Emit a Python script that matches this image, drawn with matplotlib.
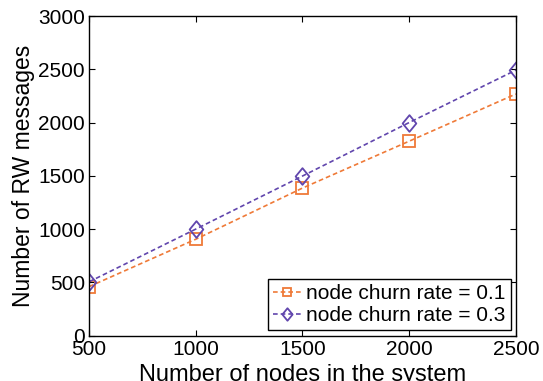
import numpy as np
import matplotlib.pyplot as plt
from matplotlib.path import Path

plt.rcParams['font.family'] = ['Liberation Sans', 'DejaVu Sans']

# Data
nodes = [500, 1000, 1500, 2000, 2500]
churn_01 = [460, 905, 1385, 1825, 2268]
churn_03 = [505, 1000, 1498, 2000, 2492]

# diamond a bit taller than wide, like the original
diamond = Path([(0, 1), (0.82, 0), (0, -1), (-0.82, 0), (0, 1)],
               [Path.MOVETO, Path.LINETO, Path.LINETO, Path.LINETO, Path.CLOSEPOLY])

fig = plt.figure(figsize=(5.43, 3.81), dpi=100)
ax = fig.add_axes([0.164, 0.119, 0.786, 0.839])

ax.plot(nodes, churn_01, linestyle=(0, (2.8, 1.8)), marker='s', color='#ef7a38',
        markerfacecolor='none', markersize=8.5, markeredgewidth=1.3, linewidth=1.2,
        label='node churn rate = 0.1')
ax.plot(nodes, churn_03, linestyle=(0, (2.8, 1.8)), marker=diamond, color='#6146ad',
        markerfacecolor='none', markersize=12, markeredgewidth=1.3, linewidth=1.2,
        label='node churn rate = 0.3')

ax.set_xlim(500, 2500)
ax.set_ylim(0, 3000)
ax.set_xticks([500, 1000, 1500, 2000, 2500])
ax.set_yticks([0, 500, 1000, 1500, 2000, 2500, 3000])
ax.tick_params(direction='in', top=True, right=True, labelsize=15, length=4, pad=3)
for s in ax.spines.values():
    s.set_linewidth(1.0)

ax.set_xlabel('Number of nodes in the system', fontsize=17, labelpad=4)
ax.set_ylabel('Number of RW messages', fontsize=16.5, labelpad=2)

leg = ax.legend(loc='lower right', fontsize=15, fancybox=False, framealpha=1,
                edgecolor='black', borderpad=0.25, handlelength=1.4,
                handletextpad=0.2, labelspacing=0.15, borderaxespad=0.25,
                markerscale=0.75)
leg.get_frame().set_linewidth(1.0)

fig.savefig('out.png', dpi=100)
